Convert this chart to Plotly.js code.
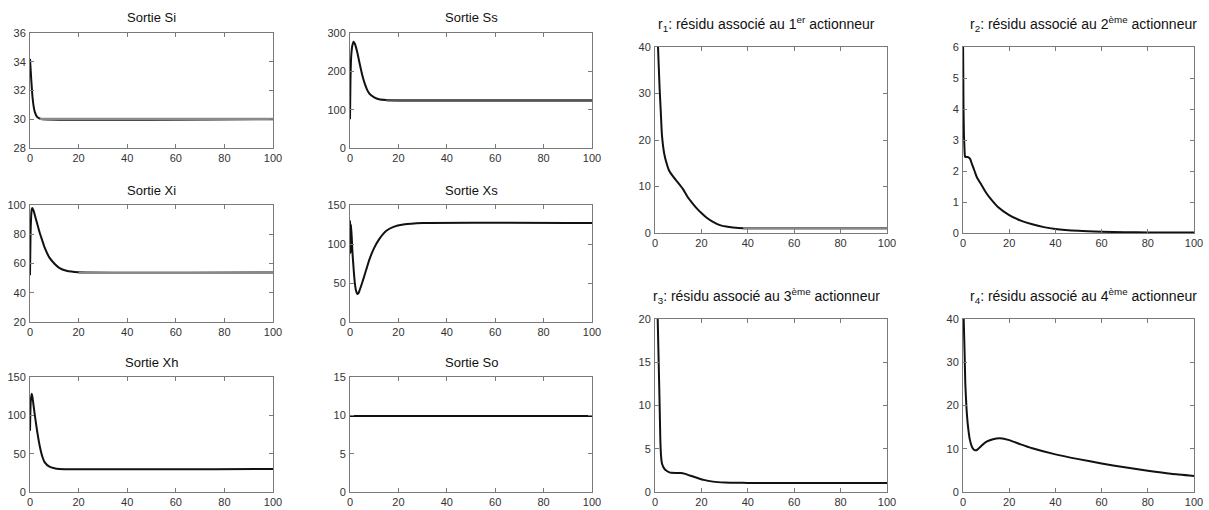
<!DOCTYPE html>
<html>
<head>
<meta charset="utf-8">
<script src="https://cdn.plot.ly/plotly-3.0.1.min.js"></script>
<style>
html,body{margin:0;padding:0;background:#fff;}
#chart{width:1209px;height:510px;}
</style>
</head>
<body>
<div id="chart"></div>
<script>
// ---- Data ----
const titles = [
  "Sortie Si", "Sortie Ss", "Sortie Xi", "Sortie Xs", "Sortie Xh", "Sortie So",
  "r<sub>1</sub>: résidu associé au 1<sup>er</sup> actionneur",
  "r<sub>2</sub>: résidu associé au 2<sup>ème</sup> actionneur",
  "r<sub>3</sub>: résidu associé au 3<sup>ème</sup> actionneur",
  "r<sub>4</sub>: résidu associé au 4<sup>ème</sup> actionneur"
];
const xTicks = [0, 20, 40, 60, 80, 100];

const t_Si = [0, 0.5, 1, 1.5, 2, 3, 4, 5, 100];
const y_Si = [34.2, 32.8, 31.6, 30.9, 30.5, 30.15, 30.05, 30.0, 30.0];
const tEst_Si = [4, 100];
const yEst_Si = [30.02, 30.02];

const t_Ss = [0, 0.2, 0.5, 1, 1.5, 2, 3, 4, 5, 6, 7, 8, 10, 12, 15, 20, 100];
const y_Ss = [75, 180, 240, 268, 277, 272, 250, 220, 192, 170, 153, 142, 132, 127, 125, 124, 124];
const tEst_Ss = [15, 100];
const yEst_Ss = [124, 124];

const t_Xi = [0, 0.3, 0.7, 1, 1.5, 2, 3, 4, 5, 6, 8, 10, 12, 15, 20, 100];
const y_Xi = [52, 85, 97, 98, 96, 93, 87, 81, 76, 71, 64, 60, 57, 55, 54, 53.8];
const tEst_Xi = [20, 100];
const yEst_Xi = [53.6, 53.6];

const t_Xs = [0, 0.2, 0.4, 0.7, 1, 1.5, 2, 2.5, 3, 3.5, 4, 5, 6, 7, 8, 10, 12, 15, 18, 22, 30, 100];
const y_Xs = [130, 88, 125, 110, 90, 68, 50, 40, 36, 37, 41, 50, 60, 70, 80, 95, 106, 117, 122, 125, 127, 127];

const t_Xh = [0, 0.3, 0.7, 1, 1.5, 2, 3, 4, 5, 6, 8, 10, 12, 100];
const y_Xh = [80, 118, 128, 124, 112, 100, 78, 60, 47, 39, 33, 31, 30, 30];

const t_So = [0, 100];
const y_So = [9.9, 9.9];

const t_r1 = [1, 1.3, 2, 2.5, 3, 4, 5, 6, 8, 10, 12, 14, 16, 18, 20, 22, 25, 28, 32, 36, 40, 100];
const y_r1 = [46, 40, 31, 26, 21, 17, 15, 13.5, 12, 10.8, 9.5, 7.8, 6.5, 5.3, 4.3, 3.4, 2.4, 1.7, 1.3, 1.1, 1.0, 1.0];
const tEst_r1 = [38, 100];
const yEst_r1 = [1.0, 1.0];

const t_r2 = [0, 0.2, 0.4, 0.6, 0.8, 1, 2, 3, 4, 5, 6, 8, 10, 12, 15, 20, 25, 30, 35, 40, 50, 60, 70, 80, 100];
const y_r2 = [6.5, 4.2, 3.2, 2.8, 2.5, 2.45, 2.45, 2.4, 2.2, 2.0, 1.8, 1.55, 1.3, 1.1, 0.85, 0.58, 0.4, 0.28, 0.19, 0.13, 0.07, 0.04, 0.025, 0.02, 0.015];

const t_r3 = [1, 1.5, 2, 2.3, 2.6, 3, 4, 5, 6, 7, 9, 11, 13, 15, 18, 21, 25, 30, 35, 40, 100];
const y_r3 = [22, 16, 10, 6, 4.2, 3.3, 2.7, 2.45, 2.3, 2.22, 2.2, 2.2, 2.1, 1.9, 1.65, 1.4, 1.2, 1.1, 1.07, 1.05, 1.05];

const t_r4 = [0, 0.3, 0.7, 1, 1.5, 2, 3, 4, 5, 6, 8, 10, 13, 16, 20, 25, 30, 40, 50, 60, 70, 80, 90, 100];
const y_r4 = [45, 40, 32, 25, 19.5, 16, 12, 10.3, 9.7, 9.7, 10.7, 11.6, 12.2, 12.4, 12.0, 11.0, 10.1, 8.7, 7.6, 6.6, 5.7, 4.9, 4.2, 3.7];

const yRanges = [[28, 36], [0, 300], [20, 100], [0, 150], [0, 150], [0, 15], [0, 40], [0, 6], [0, 20], [0, 40]];
const yTicks = [
  [28, 30, 32, 34, 36], [0, 100, 200, 300], [20, 40, 60, 80, 100], [0, 50, 100, 150],
  [0, 50, 100, 150], [0, 5, 10, 15], [0, 10, 20, 30, 40], [0, 1, 2, 3, 4, 5, 6],
  [0, 5, 10, 15, 20], [0, 10, 20, 30, 40]
];

// ---- Layout (pixel boxes of each panel) ----
const W = 1209, H = 510;
const boxes = [
  [30, 273, 33, 148], [350, 592, 33, 148],
  [30, 273, 205, 322], [350, 592, 205, 322],
  [30, 273, 377, 492], [350, 592, 377, 492],
  [655, 887, 47, 233], [963, 1194, 47, 233],
  [655, 887, 319, 492], [963, 1194, 319, 492]
];
const titlePos = [
  [151, 18], [471, 18], [151, 190], [471, 190], [151, 362], [471, 362],
  [766, 24], [1083, 24], [766, 296], [1083, 296]
];

const FONT = "'Liberation Sans', Arial, sans-serif";

const mainSeries = [
  [t_Si, y_Si], [t_Ss, y_Ss], [t_Xi, y_Xi], [t_Xs, y_Xs], [t_Xh, y_Xh], [t_So, y_So],
  [t_r1, y_r1], [t_r2, y_r2], [t_r3, y_r3], [t_r4, y_r4]
];
const estSeries = [
  [0, tEst_Si, yEst_Si, '#8a8a8a'], [1, tEst_Ss, yEst_Ss, '#555'],
  [2, tEst_Xi, yEst_Xi, '#8a8a8a'], [6, tEst_r1, yEst_r1, '#8a8a8a']
];

const data = [];
const layout = {
  width: W, height: H,
  margin: {l: 0, r: 0, t: 0, b: 0},
  paper_bgcolor: '#fff', plot_bgcolor: '#fff',
  showlegend: false,
  annotations: []
};

mainSeries.forEach((s, i) => {
  const k = i + 1;
  data.push({
    x: s[0], y: s[1], xaxis: 'x' + k, yaxis: 'y' + k,
    mode: 'lines', line: {color: '#111', width: 2, shape: 'spline', smoothing: 0.5},
    hoverinfo: 'skip'
  });
});
estSeries.forEach(e => {
  const k = e[0] + 1;
  data.push({
    x: e[1], y: e[2], xaxis: 'x' + k, yaxis: 'y' + k,
    mode: 'lines', line: {color: e[3], width: 2.2}, hoverinfo: 'skip'
  });
});

boxes.forEach((b, i) => {
  const k = i + 1;
  const isR = i >= 6;
  const common = {
    showline: true, mirror: 'ticks', linecolor: '#7a7a7a', linewidth: 1,
    ticks: 'inside', ticklen: 4, tickcolor: '#7a7a7a', tickwidth: 1,
    showgrid: false, zeroline: false, fixedrange: true,
    tickfont: {family: FONT, size: 11, color: '#333'}
  };
  layout['xaxis' + k] = Object.assign({}, common, {
    domain: [b[0] / W, b[1] / W], range: [0, 100], tickmode: 'array', tickvals: xTicks,
    anchor: 'y' + k, ticklabelstandoff: 0
  });
  layout['yaxis' + k] = Object.assign({}, common, {
    domain: [1 - b[3] / H, 1 - b[2] / H], range: yRanges[i], tickmode: 'array', tickvals: yTicks[i],
    anchor: 'x' + k, ticklabelstandoff: 1
  });
  const tp = titlePos[i];
  layout.annotations.push({
    text: titles[i], xref: 'paper', yref: 'paper',
    x: tp[0] / W, y: 1 - tp[1] / H, xanchor: 'center', yanchor: 'middle',
    showarrow: false,
    font: {family: FONT, size: isR ? 14 : 13, color: '#111'}
  });
});

Plotly.newPlot('chart', data, layout, {staticPlot: true, displayModeBar: false});
</script>
</body>
</html>
